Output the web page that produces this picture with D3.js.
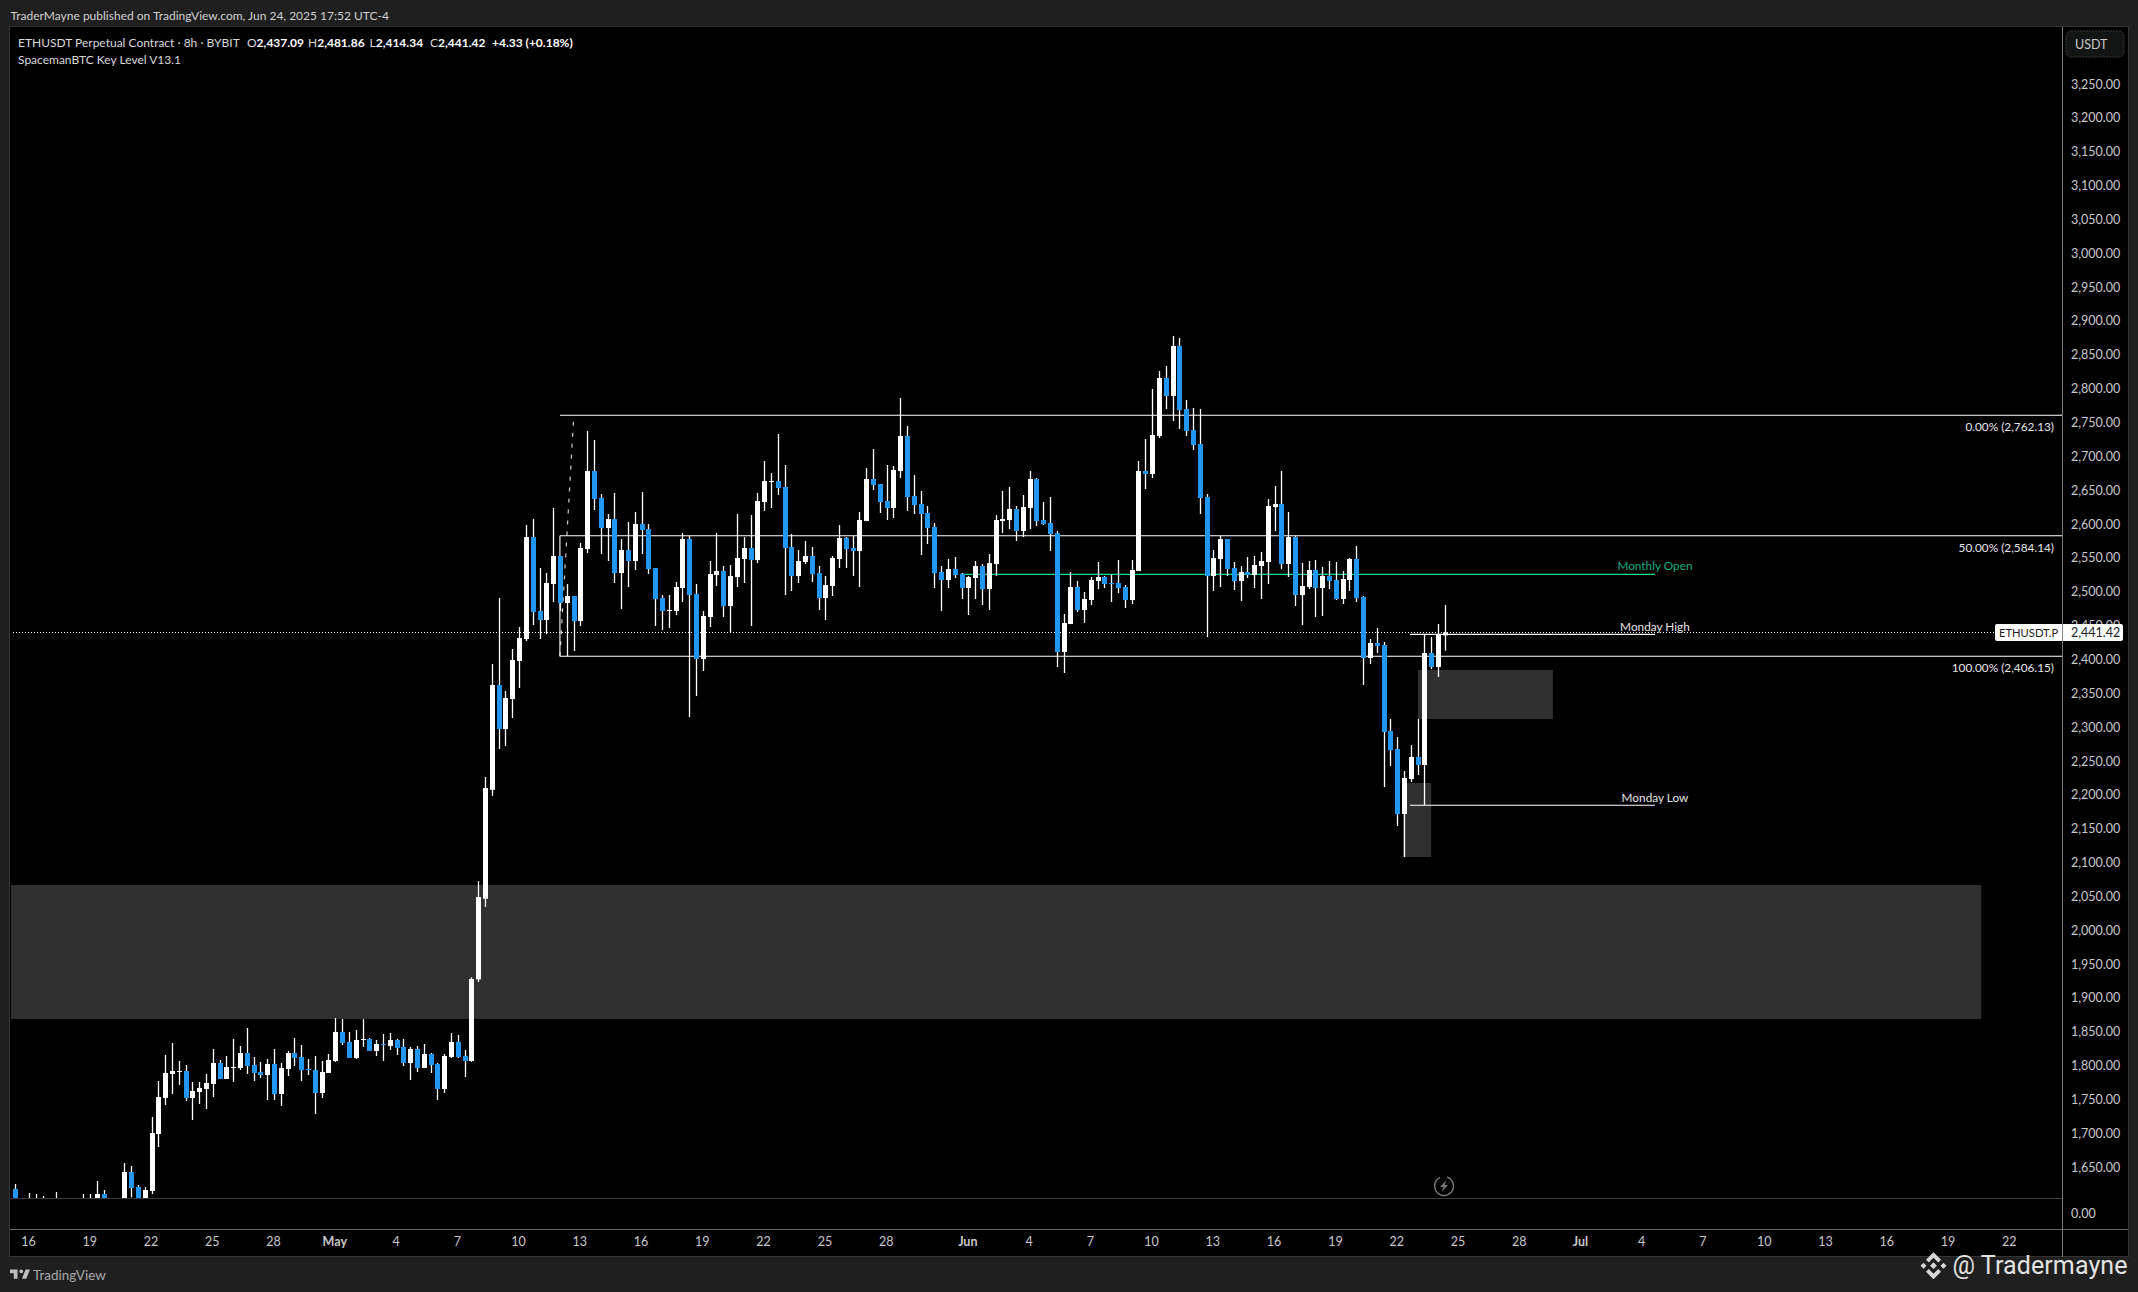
<!DOCTYPE html>
<html><head><meta charset="utf-8">
<style>html,body{margin:0;padding:0;background:#1f1f1f;overflow:hidden}svg{display:block}text{font-family:Lato,"Open Sans",sans-serif}</style>
<script src="https://cdnjs.cloudflare.com/ajax/libs/d3/7.9.0/d3.min.js"></script>
</head><body><svg id="c" width="2138" height="1292"></svg>
<script>
const opens=[1619.3,1592,1596,1600,1597,1600,1598,1601,1597,1599,
1596,1600,1603,1611.9,1600,1598,1600,1644.4,1622.3,1600,
1616.4,1700.6,1753.7,1789.2,1792.1,1793.6,1753.7,1762.6,1767,1774.4,
1805.4,1781.8,1798,1798,1820.2,1802.5,1792.1,1787.7,1804,1759.6,
1796.6,1820.2,1814.3,1796.6,1795.1,1761.1,1790.7,1808.4,1851.2,1836.5,
1812.8,1839.4,1840.9,1823.2,1833.5,1830.5,1839.4,1829.1,1805.4,1826.1,
1798,1818.7,1804,1767,1814.3,1836.5,1815.8,1808.4,1929,2048,
2209,2363.7,2298.7,2343,2399.2,2431.6,2582.3,2473,2459.7,2512.9,
2554.3,2484.8,2495.2,2458.2,2564.6,2679.8,2639.9,2595.6,2608.9,2529.1,
2563.1,2546.9,2601.5,2594.1,2536.5,2492.2,2473,2473,2507,2579.4,
2498.1,2402.1,2464.2,2526.2,2532.1,2480.4,2523.2,2549.8,2566.1,2548.3,
2634,2663.6,2665,2656.2,2567.6,2524.7,2545.4,2554.3,2529.1,2492.2,
2510,2549.8,2580.8,2566.1,2561.6,2605.9,2668,2660.6,2635.5,2625.2,
2679.8,2731.5,2642.9,2631.1,2617.8,2597.1,2530.6,2518.8,2535,2527.7,
2507,2521.8,2539.5,2505.5,2542.4,2605.9,2607.4,2623.7,2591.2,2625.2,
2668,2607.5,2603,2588.3,2412.5,2453.8,2508.5,2474.5,2489.3,2517.3,
2523.3,2514.4,2514.4,2508.5,2489.3,2532.1,2679.8,2675.4,2731.5,2817.2,
2790.6,2864.5,2771.4,2740.4,2719.7,2641.4,2524.7,2549.8,2579.4,2536.6,
2517.3,2530.6,2526.2,2539.5,2545.4,2626.7,2631.1,2542.5,2582.3,2496.7,
2508.5,2533.6,2507,2524.8,2518.9,2490.8,2518.9,2549.9,2493.8,2403.6,
2425.8,2422.9,2295.8,2269.2,2173.2,2224.9,2257.4,2245.6,2411,2390.4,2437.09];
const highs=[1626.7,1600,1613.4,1611.9,1609,1604,1614.9,1604,1603,1604,
1611.9,1611.9,1631.1,1617.8,1604,1604,1657.7,1653.3,1625.2,1622.3,
1725.7,1778.8,1817.3,1835,1808.4,1802.5,1777.4,1777.4,1789.2,1826.1,
1809.9,1815.8,1840.9,1830.5,1857.1,1814.3,1806.9,1811.3,1826.1,1805.4,
1823.2,1842.4,1832,1811.3,1815.8,1808.4,1818.7,1871.9,1870.4,1851.2,
1854.2,1870.4,1842.4,1839.4,1848.3,1849.8,1840.9,1840.9,1829.1,1830.5,
1833.5,1820.2,1805.4,1818.7,1849.8,1846.8,1824.6,1932,2074,2228,
2394.7,2492.2,2354.8,2416.9,2449.4,2600,2608.9,2536.5,2529.1,2625.2,
2554.3,2512.9,2495.2,2573.5,2738.9,2725.6,2645.8,2616.3,2647.3,2579.4,
2604.5,2619.3,2648.8,2601.5,2536.5,2496.6,2496.6,2515.9,2588.2,2583.8,
2512.9,2473,2546.9,2588.2,2539.5,2541,2616.3,2582.3,2614.8,2647.3,
2694.6,2676.9,2734.5,2688.7,2586.8,2563.1,2576.4,2567.6,2539.5,2524.7,
2554.3,2600,2582.3,2583.8,2619.3,2684.3,2712.3,2660.6,2688.7,2687.2,
2787.7,2746.3,2673.9,2650.3,2628.1,2603,2539.5,2549.8,2552.8,2529.1,
2524.7,2546.9,2542.4,2557.2,2614.8,2650.3,2656.2,2628.1,2644.4,2679.8,
2669.5,2634,2641.4,2591.2,2468.6,2530.6,2517.3,2501.1,2523.3,2545.4,
2524.7,2527.7,2548.4,2511.4,2548.4,2694.6,2727.1,2801,2827.6,2835,
2879.3,2876.3,2784.7,2772.9,2771.4,2645.9,2563.1,2583.8,2579.4,2545.4,
2539.5,2552.8,2554.3,2560.2,2638.5,2657.7,2679.8,2619.3,2583.8,2544,
2546.9,2548.4,2538.1,2546.9,2545.5,2532.2,2551.4,2569.1,2495.2,2431.7,
2448,2427.3,2313.5,2287,2236.7,2275.1,2313.5,2437.6,2434.7,2453.9,2481.86];
const lows=[1580,1585,1590,1590,1592,1590,1590,1588,1585,1585,
1590,1592,1595,1590,1588,1590,1592,1607,1590,1595,
1611.9,1681.3,1743.4,1759.6,1773,1749.3,1721.2,1744.9,1737.5,1755.2,
1781.8,1781.8,1777.4,1795.1,1789.2,1778.8,1783.3,1750.8,1750.8,1741.9,
1786.2,1801,1778.8,1787.7,1730.1,1753.7,1790.7,1806.9,1832,1812.8,
1811.3,1829.1,1823.2,1815.8,1808.4,1824.6,1817.3,1801,1780.3,1792.1,
1798,1790.7,1750.8,1761.1,1812.8,1812.8,1784.8,1806.9,1925,2036,
2200,2269.2,2273.6,2314.9,2359.3,2428.7,2452.3,2431.6,2439,2486.3,
2473,2406.5,2413.9,2450.9,2558.7,2622.2,2557.2,2546.9,2514.4,2476,
2508.5,2533.6,2557.2,2527.7,2450.9,2445,2447.9,2467.1,2486.3,2316.4,
2347.4,2384.4,2449.4,2509.9,2464.2,2440.5,2508.5,2514.4,2450.9,2543.9,
2620.7,2625.2,2644.4,2496.6,2502.6,2514.4,2542.4,2515.9,2474.5,2459.7,
2495.2,2536.5,2536.5,2524.7,2508.5,2605.9,2651.8,2617.8,2607.4,2610.4,
2669.5,2620.7,2616.3,2555.7,2572,2507,2473,2507,2521.8,2490.7,
2467.1,2490.7,2481.9,2474.5,2524.7,2588.2,2594.1,2576.4,2582.3,2594.1,
2598.6,2600.1,2561.7,2390.3,2381.5,2453.8,2471.6,2455.3,2481.9,2505.5,
2507,2486.3,2499.6,2477.5,2483.4,2532.1,2653.2,2669.5,2728.6,2771.4,
2753.7,2741.9,2731.5,2710.9,2616.3,2434.6,2502.6,2508.5,2524.7,2504,
2487.8,2521.8,2507,2490.8,2512.9,2591.2,2535.1,2523.3,2480.4,2452.4,
2505.6,2464.2,2465.7,2505.6,2489.3,2483.4,2502.6,2486.4,2363.8,2394.8,
2411,2213.1,2244.1,2155.5,2109.7,2220.5,2230.8,2186.5,2387.4,2375.6,2414.34];
const closes=[1590,1596,1600,1597,1600,1598,1601,1597,1599,1596,
1600,1603,1611.9,1600,1598,1600,1644.4,1620.8,1600,1617.8,
1702,1755.2,1790.7,1793.6,1793.6,1753.7,1764.1,1768.5,1775.9,1805.4,
1781.8,1799.5,1799.5,1820.2,1801,1790.7,1787.7,1804,1759.6,1798,
1820.2,1812.8,1795.1,1795.1,1761.1,1792.1,1809.9,1851.2,1835,1812.8,
1839.4,1840.9,1823.2,1833.5,1832,1839.4,1827.6,1805.4,1826.1,1798,
1818.7,1802.5,1767,1815.8,1836.5,1814.3,1808.4,1929.5,2050.6,2211.6,
2363.7,2298.7,2344.5,2400.6,2433.1,2582.3,2471.5,2459.7,2514.4,2554.3,
2484.8,2495.2,2458.2,2566.1,2679.8,2638.5,2595.6,2608.9,2529.1,2563.1,
2546.9,2601.5,2592.7,2535,2490.7,2473,2474.5,2508.5,2579.4,2496.6,
2402.1,2465.6,2527.7,2532.1,2480.4,2524.7,2551.3,2566.1,2548.3,2635.5,
2665,2665,2654.7,2566.1,2524.7,2546.9,2554.3,2527.7,2492.2,2511.4,
2551.3,2580.8,2564.6,2561.6,2607.4,2668,2659.1,2634,2625.2,2681.3,
2731.5,2641.4,2629.6,2616.3,2595.6,2529.1,2518.8,2535,2526.2,2507,
2523.2,2539.5,2505.5,2543.9,2607.4,2608.9,2623.7,2591.2,2626.6,2668,
2605.9,2601.6,2586.8,2412.5,2455.3,2508.5,2474.5,2490.8,2518.8,2523.3,
2512.9,2512.9,2507,2489.3,2533.6,2679.8,2675.4,2733,2817.2,2790.6,
2864.5,2770,2738.9,2718.2,2640,2524.7,2551.3,2579.4,2535.1,2517.3,
2530.6,2526.2,2541,2546.9,2628.1,2631.1,2542.5,2582.3,2496.7,2510,
2533.6,2507,2524.8,2517.4,2490.8,2520.3,2549.9,2492.3,2403.6,2425.8,
2421.4,2294.3,2267.7,2173.2,2226.4,2257.4,2245.6,2411,2390.4,2439.1,2441.42];

const priceTicks=[3250,3200,3150,3100,3050,3000,2950,2900,2850,2800,2750,2700,2650,2600,2550,2500,2450,2400,2350,2300,2250,2200,2150,2100,2050,2000,1950,1900,1850,1800,1750,1700,1650];
const timeTicks=["2025-04-16","2025-04-19","2025-04-22","2025-04-25","2025-04-28","2025-05-01","2025-05-04","2025-05-07","2025-05-10","2025-05-13","2025-05-16","2025-05-19","2025-05-22","2025-05-25","2025-05-28","2025-06-01","2025-06-04","2025-06-07","2025-06-10","2025-06-13","2025-06-16","2025-06-19","2025-06-22","2025-06-25","2025-06-28","2025-07-01","2025-07-04","2025-07-07","2025-07-10","2025-07-13","2025-07-16","2025-07-19","2025-07-22"];
const fibLevels=[{pct:"0.00%",price:2762.13},{pct:"50.00%",price:2584.14},{pct:"100.00%",price:2406.15}];
const zones=[
 {t0:"2025-04-15T00:00Z",t1:"2025-07-20T14:30Z",hi:2068.3,lo:1870.4},
 {t0:"2025-06-23T00:30Z",t1:"2025-06-29T15:00Z",hi:2385.9,lo:2313.5},
 {t0:"2025-06-22T07:00Z",t1:"2025-06-23T16:00Z",hi:2219,lo:2109.7}];
const keyLevels=[
 {name:"Monthly Open",price:2527.3,t0:"2025-05-31T14:00Z",color:"#00dd90",tc:"#12a97c",dy:-8.5},
 {name:"Monday High",price:2438.6,t0:"2025-06-22T15:00Z",color:"#fff",tc:"#e4e4e4",dy:-7.5},
 {name:"Monday Low",price:2186.1,t0:"2025-06-22T15:00Z",color:"#fff",tc:"#e4e4e4",dy:-7.5}];
const keyEnd="2025-07-04T15:00Z";
const lastPrice=2441.42;
const fibStart="2025-05-12T00:00Z", fibMid="2025-05-12T16:00Z";

const parseD=d=>new Date(d.length===10?d+"T00:00Z":d);
const x=d3.scaleUtc().domain([new Date("2025-04-16T00:00Z"),new Date("2025-07-22T00:00Z")]).range([29,29+97*20.42]);
const y=d3.scaleLinear().domain([2762.13,2406.15]).range([415.3,656.3]);
const firstBar=Date.UTC(2025,3,15,8);
const bars=opens.map((o,i)=>({o,h:highs[i],l:lows[i],c:closes[i],t:new Date(firstBar+i*8*3600e3)}));
const PL=10,PT=27,PR=2062,PB=1198;

const svg=d3.select("#c");
const T=(g,xx,yy,s,o={})=>g.append("text").attr("x",xx).attr("y",yy).text(s).attr("fill",o.fill||"#d4d4d4").attr("font-size",o.size||12).attr("text-anchor",o.anchor||"start").attr("dominant-baseline","central").attr("font-weight",o.weight||400);

svg.append("rect").attr("width",2138).attr("height",1292).attr("fill","#1f1f1f");
svg.append("rect").attr("x",9.5).attr("y",26.5).attr("width",2119).attr("height",1230).attr("fill","#000").attr("stroke","#333");
svg.append("defs").append("clipPath").attr("id","pane").append("rect").attr("x",PL+1).attr("y",PT).attr("width",PR-PL-1).attr("height",PB-PT);

const plot=svg.append("g").attr("clip-path","url(#pane)");
plot.selectAll("rect.z").data(zones).join("rect").attr("class","z")
 .attr("x",d=>x(parseD(d.t0))).attr("width",d=>x(parseD(d.t1))-x(parseD(d.t0)))
 .attr("y",d=>y(d.hi)).attr("height",d=>y(d.lo)-y(d.hi)).attr("fill","#303030");

// last price dotted
plot.append("line").attr("x1",PL).attr("x2",1995).attr("y1",y(lastPrice)).attr("y2",y(lastPrice)).attr("stroke","#fff").attr("stroke-dasharray","1 2").attr("shape-rendering","crispEdges");

// fib
const fx=x(parseD(fibStart));
plot.selectAll("line.f").data(fibLevels).join("line").attr("class","f").attr("x1",fx).attr("x2",PR).attr("y1",d=>y(d.price)).attr("y2",d=>y(d.price)).attr("stroke","#fff").attr("stroke-width",1.1);
plot.append("line").attr("x1",fx).attr("x2",fx).attr("y1",y(fibLevels[1].price)).attr("y2",y(fibLevels[2].price)).attr("stroke","#fff").attr("stroke-width",1.1);
plot.append("line").attr("x1",fx).attr("y1",y(fibLevels[2].price)).attr("x2",x(parseD(fibMid))).attr("y2",y(2755)).attr("stroke","#fff").attr("stroke-opacity",.8).attr("stroke-width",1.2).attr("stroke-dasharray","4 7");

// key levels
plot.selectAll("line.k").data(keyLevels).join("line").attr("class","k").attr("x1",d=>x(parseD(d.t0))).attr("x2",x(parseD(keyEnd))).attr("y1",d=>y(d.price)).attr("y2",d=>y(d.price)).attr("stroke",d=>d.color).attr("stroke-width",1.2);

// candles
const BW=5,WW=1.3;
const cg=plot.selectAll("g.c").data(bars).join("g").attr("class","c");
cg.append("rect").attr("x",d=>Math.round(x(d.t))-WW/2+.5).attr("width",WW).attr("y",d=>y(d.h)).attr("height",d=>y(d.l)-y(d.h)).attr("fill","#fff");
cg.append("rect").attr("x",d=>Math.round(x(d.t))-2).attr("width",BW).attr("y",d=>y(Math.max(d.o,d.c))).attr("height",d=>Math.max(1,Math.abs(y(d.o)-y(d.c)))).attr("fill",d=>d.c>=d.o?"#fff":"#2196f3");

// structure lines
svg.append("line").attr("x1",PL).attr("x2",PR).attr("y1",PB+.5).attr("y2",PB+.5).attr("stroke","#3a3a3a");
svg.append("line").attr("x1",PL).attr("x2",2128).attr("y1",1229.5).attr("y2",1229.5).attr("stroke","#666");
svg.append("line").attr("x1",PR+.5).attr("x2",PR+.5).attr("y1",27).attr("y2",1257).attr("stroke","#777");

// axes
const yAxis=d3.axisRight(y).tickValues(priceTicks).tickSize(0).tickPadding(9).tickFormat(d3.format(",.2f"));
const ga=svg.append("g").attr("transform",`translate(${PR},-1)`).call(yAxis);
ga.select(".domain").remove();
ga.selectAll("text").attr("fill","#c8c8c8").attr("font-size",12.5).attr("font-family","Lato");
T(svg,2071,1213,"0.00",{fill:"#c8c8c8",size:12.5});

const monthFmt=d3.utcFormat("%b");
const xAxis=d3.axisBottom(x).tickValues(timeTicks.map(parseD)).tickSize(0).tickPadding(0).tickFormat(d=>d.getUTCDate()===1?monthFmt(d):String(d.getUTCDate()));
const gx=svg.append("g").attr("transform","translate(-1,1237)").call(xAxis);
gx.select(".domain").remove();
gx.selectAll("text").attr("fill","#c8c8c8").attr("font-size",12.5).attr("font-family","Lato").attr("font-weight",d=>d.getUTCDate()===1?700:400);

// fib labels
fibLevels.forEach(f=>T(svg,2054,y(f.price)+11.5,`${f.pct} (${d3.format(",.2f")(f.price)})`,{anchor:"end",fill:"#e6e6e6",size:11.8}));
keyLevels.forEach(k=>T(svg,x(parseD(keyEnd)),y(k.price)+k.dy,k.name,{anchor:"middle",fill:k.tc,size:11.8}));

// last price tag
svg.append("rect").attr("x",1995).attr("y",624).attr("width",128).attr("height",17).attr("rx",2).attr("fill","#fff");
svg.append("line").attr("x1",PR+.5).attr("x2",PR+.5).attr("y1",624).attr("y2",641).attr("stroke","#888");
T(svg,1999,y(lastPrice),"ETHUSDT.P",{fill:"#222",size:11.2});
T(svg,2071,y(lastPrice),d3.format(",.2f")(lastPrice),{fill:"#222",size:12.5});

// USDT button
svg.append("rect").attr("x",2066).attr("y",31).attr("width",58).attr("height",26).attr("rx",5).attr("fill","#131515").attr("stroke","#3a3a3a").attr("stroke-dasharray","2 1");
T(svg,2075,44,"USDT",{fill:"#c8c8c8",size:12.5});

// header + legend
T(svg,10.5,15,"TraderMayne published on TradingView.com, Jun 24, 2025 17:52 UTC-4",{fill:"#d0d0d0",size:12});
T(svg,18,42,"ETHUSDT Perpetual Contract · 8h · BYBIT",{fill:"#d8d8d8",size:12});
const ohlcLabels=["O","H","L","C"],ohlcVals=["2,437.09","2,481.86","2,414.34","2,441.42"],ohlcX=[247,308,369.5,430];
ohlcLabels.forEach((l,i)=>{const t=T(svg,ohlcX[i],42,"",{fill:"#d8d8d8",size:12});t.append("tspan").text(l);t.append("tspan").text(ohlcVals[i]).attr("font-weight",700).attr("fill","#fff");});
T(svg,492,42,"+4.33 (+0.18%)",{fill:"#fff",size:12,weight:700});
T(svg,18,59,"SpacemanBTC Key Level V13.1",{fill:"#d8d8d8",size:12});

// lightning icon
const ic=svg.append("g").attr("transform","translate(1444,1186)");
ic.append("circle").attr("r",9.5).attr("fill","none").attr("stroke","#777").attr("stroke-width",1.5).attr("stroke-dasharray","52 8").attr("transform","rotate(-70)");
ic.append("path").attr("d","M2.5,-6 L-4,1 L-0.5,1 L-2.5,6 L4,-1 L0.5,-1 Z").attr("fill","#777");

// TradingView footer
const tv=svg.append("g").attr("transform","translate(8.75,1265.7) scale(.625)").attr("fill","#bdbdbd");
tv.append("path").attr("d","M14 6H2v6h6v9h6V6zm14 15h-7l6-15h7l-6 15z");
tv.append("circle").attr("cx",20).attr("cy",9).attr("r",3);
T(svg,33,1274.5,"TradingView",{fill:"#a8a8a8",size:13.5});

// watermark
const bn=svg.append("g").attr("transform","translate(1933.5,1265.7)").attr("fill","#d8d8d8");
bn.append("path").attr("d","M0,-13.5 L7.5,-6 L4.8,-3.3 L0,-8 L-4.8,-3.3 L-7.5,-6 Z");
bn.append("path").attr("d","M0,13.5 L7.5,6 L4.8,3.3 L0,8 L-4.8,3.3 L-7.5,6 Z");
bn.append("path").attr("d","M0,-3.4 L3.4,0 L0,3.4 L-3.4,0 Z M-10,-3 L-7,0 L-10,3 L-13,0 Z M10,-3 L13,0 L10,3 L7,0 Z");
svg.append("text").attr("x",1952.5).attr("y",1265.5).attr("dominant-baseline","central").attr("fill","#e2e2e2").attr("font-size",25).attr("letter-spacing",.1).style("font-family","Roboto").text("@ Tradermayne");
</script></body></html>
